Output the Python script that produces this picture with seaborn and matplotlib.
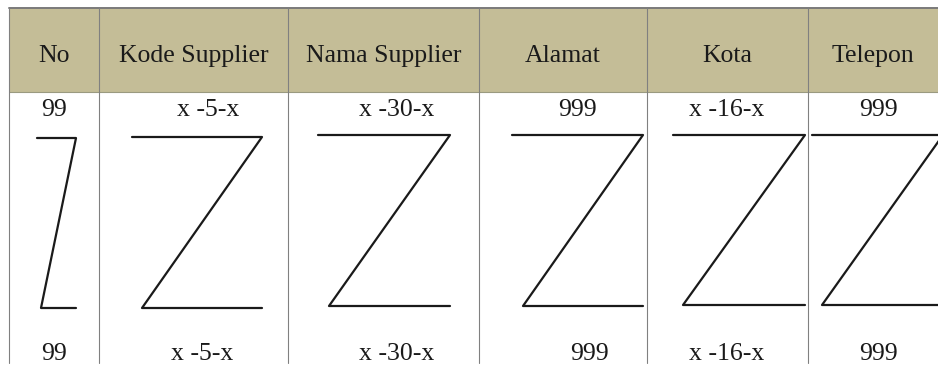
import numpy as np
import pandas as pd
import matplotlib
matplotlib.use("Agg")
import matplotlib.pyplot as plt
import seaborn as sns

# table columns and cell texts
columns = ["No", "Kode Supplier", "Nama Supplier", "Alamat", "Kota", "Telepon"]
top_values = ["99", "x -5-x", "x -30-x", "999", "x -16-x", "999"]
bottom_values = ["99", "x -5-x", "x -30-x", "999", "x -16-x", "999"]

# column edges (pixel units of the page)
col_edges = [9, 99, 288, 479, 647, 808, 938]

# text x-centres of the value rows
top_text_x = [54, 208, 397, 577, 727, 878]
bottom_text_x = [54, 202, 397, 589, 727, 878]

# the "Z" marks: top bar, diagonal, bottom bar
z_top_x0 = [37, 132, 318, 512, 673, 812]
z_top_x1 = [76, 262, 450, 643, 805, 943]
z_top_y = [138, 137, 135, 135, 135, 135]
z_bot_x0 = [41, 142, 329, 523, 683, 822]
z_bot_x1 = [76, 262, 450, 643, 805, 943]
z_bot_y = [308, 308, 306, 306, 305, 305]

header_top, header_bottom, table_bottom = 8, 92, 363

rows = []
for i, c in enumerate(columns):
    pts = [(z_top_x0[i], z_top_y[i]), (z_top_x1[i], z_top_y[i]),
           (z_bot_x0[i], z_bot_y[i]), (z_bot_x1[i], z_bot_y[i])]
    for k, (x, y) in enumerate(pts):
        rows.append({"col": c, "order": k, "x": x, "y": y})
zdf = pd.DataFrame(rows)

sns.set_theme(style="white")
plt.rcParams['font.family'] = ['Liberation Serif', 'DejaVu Serif']

fig = plt.figure(figsize=(9.38, 3.65), dpi=100)
ax = fig.add_axes([0, 0, 1, 1])
ax.set_xlim(0, 938)
ax.set_ylim(365, 0)
ax.axis('off')

# header band
ax.fill_between([col_edges[0], col_edges[-1]], header_top, header_bottom,
                color="#c4bd97", lw=0, zorder=0)

# grid lines
grid_col = "#808080"
ax.plot([col_edges[0], col_edges[-1]], [header_top, header_top], color="#7a7a7a", lw=1.4)
ax.plot([col_edges[0], col_edges[-1]], [header_bottom, header_bottom], color="#9a9a80", lw=0.8)
for x in col_edges[:-1]:
    ax.plot([x, x], [header_top, table_bottom], color=grid_col, lw=0.8)

# Z marks
sns.lineplot(data=zdf, x="x", y="y", units="col", estimator=None, sort=False,
             color="#1a1a1a", lw=1.6, ax=ax, legend=False)
ax.set_xlim(0, 938)
ax.set_ylim(365, 0)
ax.axis('off')

fs = 18.5
for i, c in enumerate(columns):
    cx = (col_edges[i] + col_edges[i + 1]) / 2
    ax.text(cx, 62, c, ha='center', va='baseline', fontsize=fs, color="#1a1a1a")
    ax.text(top_text_x[i], 116, top_values[i], ha='center', va='baseline',
            fontsize=fs, color="#1a1a1a")
    ax.text(bottom_text_x[i], 360, bottom_values[i], ha='center', va='baseline',
            fontsize=fs, color="#1a1a1a")

fig.savefig("out.png", dpi=100)
